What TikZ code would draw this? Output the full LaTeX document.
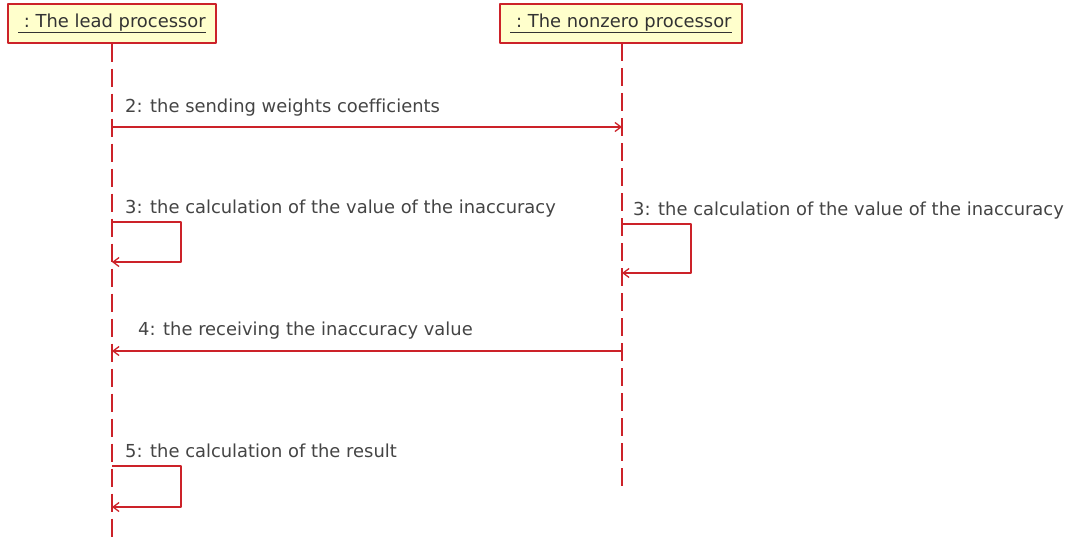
\documentclass[tikz,border=0pt]{standalone}
\usepackage{fontspec}
\setmainfont[Ligatures=NoCommon]{DejaVu Sans}
\usetikzlibrary{arrows.meta}
\definecolor{umlred}{HTML}{CC2229}
\definecolor{umlfill}{HTML}{FFFFCC}
\definecolor{umltext}{HTML}{444444}
\begin{document}
\begin{tikzpicture}[x=1pt, y=-1pt, line join=round, font=\fontsize{17.9}{20}\selectfont,
	>={Straight Barb[length=6pt,width=9pt]},
	head/.style={draw=umlred, fill=umlfill, line width=1.4pt, minimum height=39, inner sep=0pt, text=black!80},
	life/.style={umlred, line width=1.4pt, dash pattern=on 18pt off 7pt},
	msg/.style={umlred, line width=1.3pt, ->},
	lbl/.style={anchor=base west, inner sep=0pt, text=umltext}]
	\useasboundingbox (0,0) rectangle (1072,543);
	% lifelines
	\node[head, minimum width=208] (lead) at (112,23.5) {\underline{\ :\ The lead processor}};
	\node[head, minimum width=242] (nonzero) at (621,23.5) {\underline{\ :\ The nonzero processor}};
	\coordinate (leadend) at (112,543);
	\coordinate (nonzeroend) at (622,488);
	\draw[life] (lead.south) -- (leadend);
	\draw[life] (622,43) -- (nonzeroend);
	% 2
	\coordinate (m2a) at (112,127);
	\coordinate (m2b) at (622,127);
	\draw[msg] (m2a) -- (m2b);
	\node[lbl] (t2) at (125,113) {2: the sending weights coefficients};
	% 3 (lead)
	\coordinate (m3a) at (112,222);
	\coordinate (m3b) at (112,262);
	\draw[msg] (m3a) -- ++(69,0) |- (m3b);
	\node[lbl] (t3a) at (125,213) {3: the calculation of the value of the inaccuracy};
	% 3 (nonzero)
	\coordinate (m3c) at (622,224);
	\coordinate (m3d) at (622,273);
	\draw[msg] (m3c) -- ++(69,0) |- (m3d);
	\node[lbl] (t3b) at (633,215) {3: the calculation of the value of the inaccuracy};
	% 4
	\coordinate (m4a) at (622,351);
	\coordinate (m4b) at (112,351);
	\draw[msg] (m4a) -- (m4b);
	\node[lbl] (t4) at (138,335) {4: the receiving the inaccuracy value};
	% 5
	\coordinate (m5a) at (112,466);
	\coordinate (m5b) at (112,507);
	\draw[msg] (m5a) -- ++(69,0) |- (m5b);
	\node[lbl] (t5) at (125,457) {5: the calculation of the result};
\end{tikzpicture}
\end{document}
